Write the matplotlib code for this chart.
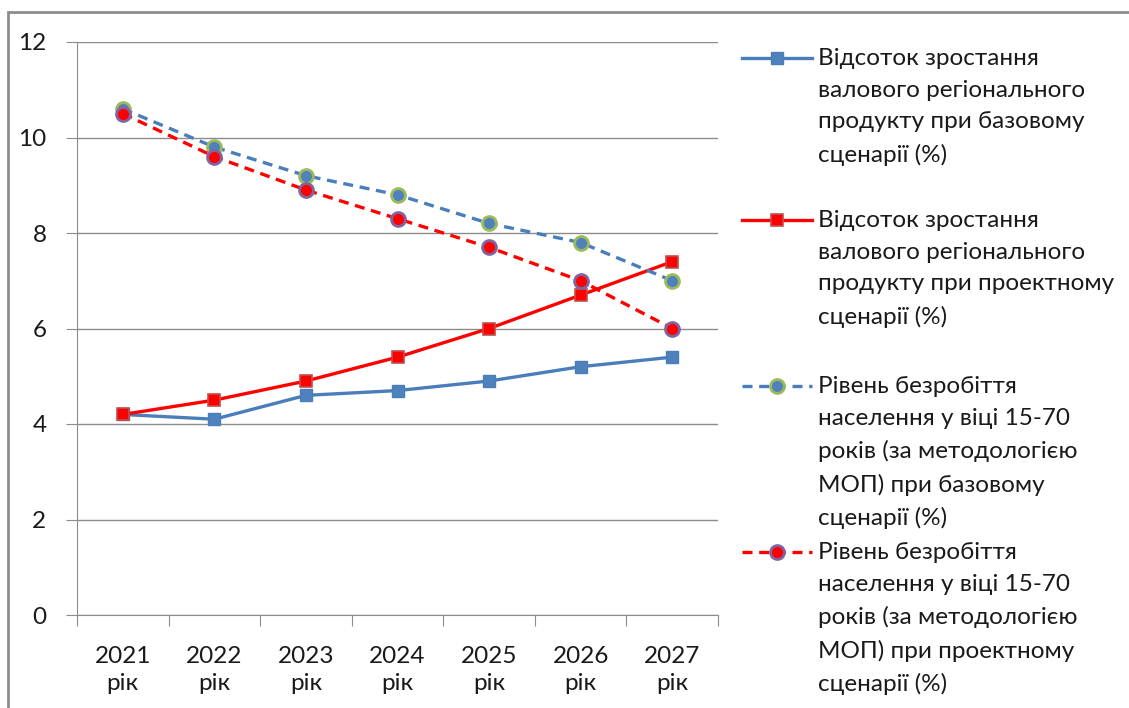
import matplotlib
matplotlib.use("Agg")
import matplotlib.pyplot as plt
from matplotlib.lines import Line2D
from matplotlib.patches import Rectangle

plt.rcParams['font.family'] = ['Lato', 'DejaVu Sans']

years = ["2021\nрік", "2022\nрік", "2023\nрік", "2024\nрік", "2025\nрік", "2026\nрік", "2027\nрік"]
grp_base = [4.2, 4.1, 4.6, 4.7, 4.9, 5.2, 5.4]
grp_proj = [4.2, 4.5, 4.9, 5.4, 6.0, 6.7, 7.4]
unemp_base = [10.6, 9.8, 9.2, 8.8, 8.2, 7.8, 7.0]
unemp_proj = [10.5, 9.6, 8.9, 8.3, 7.7, 7.0, 6.0]
labels = [
    "Відсоток зростання\nвалового регіонального\nпродукту при базовому\nсценарії (%)",
    "Відсоток зростання\nвалового регіонального\nпродукту при проектному\nсценарії (%)",
    "Рівень безробіття\nнаселення у віці 15-70\nроків (за методологією\nМОП) при базовому\nсценарії (%)",
    "Рівень безробіття\nнаселення у віці 15-70\nроків (за методологією\nМОП) при проектному\nсценарії (%)",
]

W, H = 1129, 708
fig = plt.figure(figsize=(W / 100, H / 100), dpi=100)

# outer frame
fig.patches.append(Rectangle((8 / W, -0.05), 1.2, 1 - 12 / H + 0.05, transform=fig.transFigure,
                             fill=False, edgecolor='#8c8c8c', linewidth=2))

ax = fig.add_axes([77 / W, 1 - 615 / H, (718 - 77) / W, (615 - 42) / H])

x = list(range(len(years)))
blue = '#4A7EBB'
red = '#FF0000'

styles = [
    dict(color=blue, lw=2.4, ls='-', marker='s', ms=9, mfc='#4F81BD', mec='#4A7EBB', mew=1),
    dict(color=red, lw=2.4, ls='-', marker='s', ms=9, mfc='#FF0000', mec='#C0504D', mew=1.2),
    dict(color=blue, lw=2.4, ls=(0, (3, 2)), marker='o', ms=10, mfc='#4F81BD', mec='#9BBB59', mew=2),
    dict(color=red, lw=2.4, ls=(0, (3, 2)), marker='o', ms=10, mfc='#FF0000', mec='#8064A2', mew=2),
]
series = [grp_base, grp_proj, unemp_base, unemp_proj]
for s, st in zip(series, styles):
    ax.plot(x, s, **st, zorder=3)

ax.set_xlim(-0.5, len(years) - 0.5)
ax.set_ylim(0, 12)
ax.set_yticks(range(0, 13, 2))
ax.yaxis.grid(True, color='#8c8c8c', lw=1)
ax.set_axisbelow(True)
for sp in ['top', 'right']:
    ax.spines[sp].set_visible(False)
ax.spines['left'].set_color('#8c8c8c')
ax.spines['bottom'].set_color('#8c8c8c')
ax.set_xticks([i - 0.5 for i in range(len(years) + 1)])
ax.set_xticklabels([])
ax.set_xticks(x, minor=True)
ax.set_xticklabels(years, minor=True, fontsize=17.5, color='#1a1a1a', linespacing=1.35)
ax.tick_params(axis='x', which='minor', length=0, pad=22)
ax.tick_params(axis='x', which='major', length=8, color='#8c8c8c', direction='out')
ax.tick_params(axis='y', length=8, color='#8c8c8c', labelsize=17.5, labelcolor='#1a1a1a', pad=14)

# manual legend
tops = [58, 220, 386, 552]
for st, lab, ty in zip(styles, labels, tops):
    yf = 1 - ty / H
    fig.add_artist(Line2D([742 / W, 812 / W], [yf, yf], transform=fig.transFigure,
                          color=st['color'], lw=st['lw'], ls=st['ls']))
    fig.add_artist(Line2D([777 / W], [yf], transform=fig.transFigure, ls='none',
                          marker=st['marker'], ms=st['ms'], mfc=st['mfc'], mec=st['mec'], mew=st['mew']))
    fig.text(818 / W, yf + 10 / H, lab, ha='left', va='top', fontsize=17.5, color='#1a1a1a',
             linespacing=1.63)

fig.savefig('out.png', dpi=100)
